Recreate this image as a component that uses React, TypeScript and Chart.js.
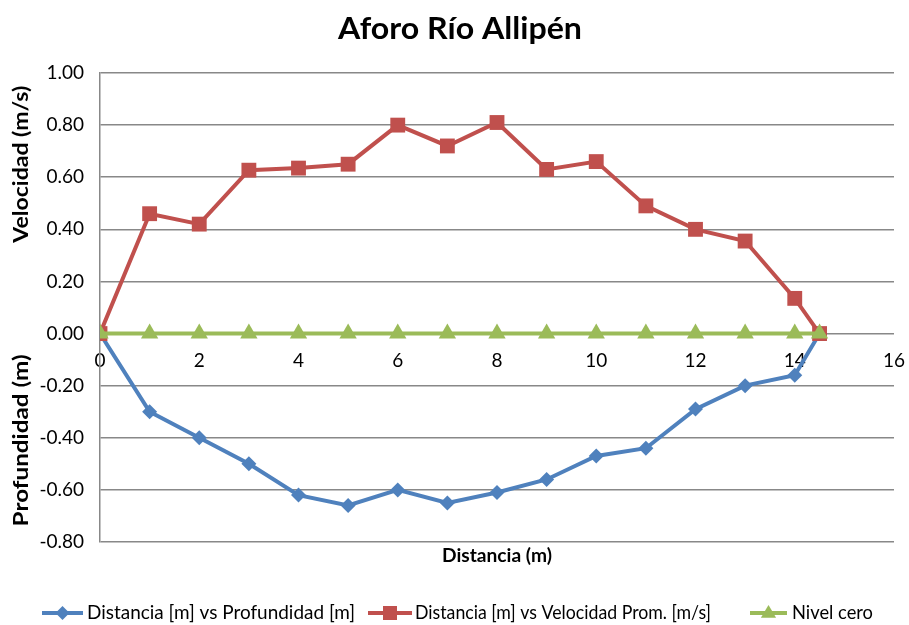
import React, { useEffect, useRef } from "react";
import { Chart, registerables } from "chart.js";

Chart.register(...registerables);

// Distance along the cross-section (m)
const distancia = [0, 1, 2, 3, 4, 5, 6, 7, 8, 9, 10, 11, 12, 13, 14, 14.5];
// Depth at each station (m), negative below the water surface
const profundidad = [0, -0.3, -0.4, -0.5, -0.62, -0.66, -0.6, -0.65, -0.61, -0.56, -0.47, -0.44, -0.29, -0.2, -0.16, 0];
// Mean velocity at each station (m/s)
const velocidad = [0, 0.46, 0.42, 0.627, 0.635, 0.65, 0.8, 0.72, 0.81, 0.63, 0.66, 0.49, 0.4, 0.355, 0.135, 0];
// Reference water level
const nivelCero = [0, 0, 0, 0, 0, 0, 0, 0, 0, 0, 0, 0, 0, 0, 0, 0];

const yTicks = [-0.8, -0.6, -0.4, -0.2, 0, 0.2, 0.4, 0.6, 0.8, 1.0];
const xTicks = [0, 2, 4, 6, 8, 10, 12, 14, 16];

const TITLE = "Aforo Río Allipén";
const X_TITLE = "Distancia (m)";
const Y_TITLE_TOP = "Velocidad (m/s)";
const Y_TITLE_BOTTOM = "Profundidad (m)";

const SERIES_NAMES = [
  "Distancia [m] vs Profundidad [m]",
  "Distancia [m] vs Velocidad Prom. [m/s]",
  "Nivel cero",
];

const BLUE = "#4F81BD";
const RED = "#C0504D";
const GREEN = "#9BBB59";
const GRID = "#888888";
const FONT = "Lato, 'Open Sans', 'DejaVu Sans', sans-serif";

const toPoints = (ys: number[]) => distancia.map((x, i) => ({ x, y: ys[i] }));

function drawMarker(ctx: CanvasRenderingContext2D, style: string, x: number, y: number, r: number, color: string) {
  ctx.fillStyle = color;
  ctx.beginPath();
  if (style === "rectRot") {
    ctx.moveTo(x, y - r);
    ctx.lineTo(x + r, y);
    ctx.lineTo(x, y + r);
    ctx.lineTo(x - r, y);
  } else if (style === "rect") {
    ctx.rect(x - r, y - r, 2 * r, 2 * r);
  } else {
    ctx.moveTo(x, y - r);
    ctx.lineTo(x + r * 0.95, y + r * 0.6);
    ctx.lineTo(x - r * 0.95, y + r * 0.6);
  }
  ctx.closePath();
  ctx.fill();
}

// Draws text at a given size, stretched along its baseline to a set width.
function drawText(
  ctx: CanvasRenderingContext2D,
  text: string,
  x: number,
  y: number,
  font: string,
  width: number,
  align: "center" | "left" = "center",
  rotate = false
) {
  ctx.save();
  ctx.font = font;
  const measured = ctx.measureText(text).width;
  ctx.translate(x, y);
  if (rotate) ctx.rotate(-Math.PI / 2);
  ctx.scale(width / measured, 1);
  ctx.textAlign = align;
  ctx.textBaseline = "middle";
  ctx.fillText(text, 0, 0);
  ctx.restore();
}

const decorations = {
  id: "decorations",
  afterDraw(chart: any) {
    const { ctx, chartArea, scales } = chart;
    const y = scales.y;
    ctx.save();
    ctx.fillStyle = "#000";

    // Main title
    drawText(ctx, TITLE, 460, 29, `bold 31px ${FONT}`, 244);

    // X axis title
    drawText(ctx, X_TITLE, (chartArea.left + chartArea.right) / 2, 556, `bold 19px ${FONT}`, 110);

    // Y axis titles, one for each half of the plot
    drawText(ctx, Y_TITLE_TOP, 22, y.getPixelForValue(0.65), `bold 20px ${FONT}`, 157, "center", true);
    drawText(ctx, Y_TITLE_BOTTOM, 22, y.getPixelForValue(-0.41), `bold 20px ${FONT}`, 172, "center", true);

    // Legend with line + marker swatches
    const items = [
      { name: SERIES_NAMES[0], color: BLUE, style: "rectRot", r: 7, x0: 42, x1: 83, tx: 87, w: 268 },
      { name: SERIES_NAMES[1], color: RED, style: "rect", r: 7, x0: 368, x1: 412, tx: 415, w: 296 },
      { name: SERIES_NAMES[2], color: GREEN, style: "triangle", r: 8, x0: 750, x1: 787, tx: 792, w: 81 },
    ];
    const ly = 613;
    for (const it of items) {
      ctx.strokeStyle = it.color;
      ctx.lineWidth = 4;
      ctx.beginPath();
      ctx.moveTo(it.x0, ly);
      ctx.lineTo(it.x1, ly);
      ctx.stroke();
      drawMarker(ctx, it.style, (it.x0 + it.x1) / 2, ly, it.r, it.color);
      ctx.fillStyle = "#000";
      drawText(ctx, it.name, it.tx, ly, `19px ${FONT}`, it.w, "left");
    }
    ctx.restore();
  },
};

export default function App() {
  const canvasRef = useRef<HTMLCanvasElement | null>(null);

  useEffect(() => {
    if (!canvasRef.current) return;
    const chart = new Chart(canvasRef.current, {
      type: "line",
      data: {
        datasets: [
          {
            label: SERIES_NAMES[0],
            data: toPoints(profundidad),
            borderColor: BLUE,
            backgroundColor: BLUE,
            borderWidth: 4,
            pointStyle: "rectRot",
            pointRadius: 7.5,
            pointBorderWidth: 0,
            tension: 0,
            order: 3,
          },
          {
            label: SERIES_NAMES[1],
            data: toPoints(velocidad),
            borderColor: RED,
            backgroundColor: RED,
            borderWidth: 4,
            pointStyle: "rect",
            pointRadius: 10.5,
            pointBorderWidth: 0,
            tension: 0,
            order: 2,
          },
          {
            label: SERIES_NAMES[2],
            data: toPoints(nivelCero),
            borderColor: GREEN,
            backgroundColor: GREEN,
            borderWidth: 4,
            pointStyle: "triangle",
            pointRadius: 10,
            pointBorderWidth: 0,
            tension: 0,
            order: 1,
          },
        ],
      },
      options: {
        responsive: false,
        animation: false,
        layout: { padding: { left: 0, right: 15, top: 73, bottom: 83 } },
        plugins: {
          legend: { display: false },
          title: { display: false },
          tooltip: { enabled: false },
        },
        scales: {
          x: {
            type: "linear",
            position: { y: 0 } as any,
            min: 0,
            max: 16,
            afterBuildTicks: (scale: any) => {
              scale.ticks = xTicks.map((v) => ({ value: v }));
            },
            afterFit: (scale: any) => {
              scale.paddingLeft = 0;
              scale.paddingRight = 0;
            },
            grid: { display: false, drawTicks: false },
            border: { display: false },
            ticks: {
              padding: 16,
              color: "#000",
              font: { family: FONT, size: 19 },
              maxRotation: 0,
            },
          },
          y: {
            type: "linear",
            min: -0.8,
            max: 1.0,
            afterBuildTicks: (scale: any) => {
              scale.ticks = yTicks.map((v) => ({ value: v }));
            },
            afterFit: (scale: any) => {
              scale.width = 100;
            },
            grid: { color: GRID, lineWidth: 1.5, drawTicks: false },
            border: { display: true, color: GRID, width: 1.5 },
            ticks: {
              padding: 16,
              color: "#000",
              font: { family: FONT, size: 19 },
              callback: (v: any) => Number(v).toFixed(2),
            },
          },
        },
      },
      plugins: [decorations],
    });
    return () => chart.destroy();
  }, []);

  return (
    <div style={{ position: "fixed", left: 0, top: 0, width: 909, height: 625, background: "#fff" }}>
      <canvas ref={canvasRef} width={909} height={625} />
    </div>
  );
}
